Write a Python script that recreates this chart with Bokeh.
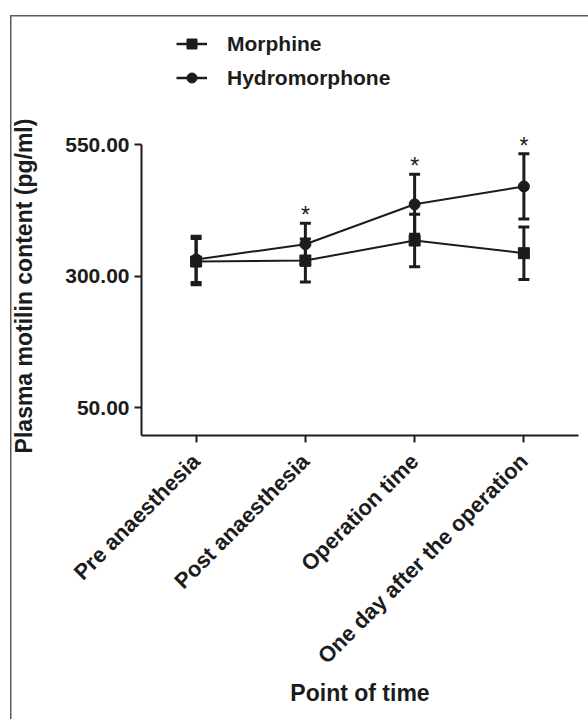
import math
from bokeh.plotting import figure
from bokeh.layouts import column
from bokeh.models import (FactorRange, Range1d, FixedTicker, NumeralTickFormatter,
                          Whisker, TeeHead, ColumnDataSource, Legend, LegendItem)
from bokeh.core.properties import value
from bokeh.embed import file_html
from bokeh.resources import INLINE

categories = ["Pre anaesthesia", "Post anaesthesia", "Operation time", "One day after the operation"]
morphine_mean = [328, 330, 368, 344]
morphine_err = [44, 41, 50, 50]
hydro_mean = [332, 361, 437, 471]
hydro_err = [44, 40, 57, 62]
significant = [False, True, True, True]
y_ticks = [50, 300, 550]
series_names = ["Morphine", "Hydromorphone"]

FONT = "Liberation Sans"
INK = "#1c1c1c"

m_src = ColumnDataSource(dict(
    x=categories, y=morphine_mean,
    lo=[m - e for m, e in zip(morphine_mean, morphine_err)],
    hi=[m + e for m, e in zip(morphine_mean, morphine_err)]))
h_src = ColumnDataSource(dict(
    x=categories, y=hydro_mean,
    lo=[m - e for m, e in zip(hydro_mean, hydro_err)],
    hi=[m + e for m, e in zip(hydro_mean, hydro_err)]))
star_src = ColumnDataSource(dict(
    x=[c for c, s in zip(categories, significant) if s],
    y=[m + e for m, e, s in zip(hydro_mean, hydro_err, significant) if s],
    t=["*" for s in significant if s]))

W = 588

# ---- legend strip: its own frame, the series drawn out of its view ----
lg = figure(width=W, height=100, output_backend="svg", toolbar_location=None,
            x_range=FactorRange(factors=categories, range_padding=0), y_range=Range1d(0, 1),
            x_axis_location=None, y_axis_location=None, min_border=0)
lg.outline_line_color = None
lg.grid.visible = False
lg.border_fill_alpha = 0
lg.background_fill_alpha = 0
lg_ml = lg.line("x", "y", source=m_src, line_color=INK, line_width=2.5)
lg_ms = lg.scatter("x", "y", source=m_src, marker="square", color=INK)
lg_hl = lg.line("x", "y", source=h_src, line_color=INK, line_width=2.5)
lg_hs = lg.scatter("x", "y", source=h_src, marker="circle", color=INK)
legend = Legend(items=[LegendItem(label=series_names[0], renderers=[lg_ml, lg_ms]),
                       LegendItem(label=series_names[1], renderers=[lg_hl, lg_hs])],
                location=(35, 10), padding=0, margin=0, spacing=9,
                glyph_width=31, glyph_height=25, label_standoff=20,
                label_text_font=FONT, label_text_font_size="21px", label_text_font_style="bold",
                label_text_color=INK, border_line_alpha=0, background_fill_alpha=0)
lg.add_layout(legend, "center")

# ---- main chart ----
p = figure(width=W, height=619, output_backend="svg", toolbar_location=None,
           x_range=FactorRange(factors=categories, range_padding=0),
           y_range=Range1d(-3, 566),
           min_border_left=141, min_border_right=10, min_border_top=36, min_border_bottom=284)
p.outline_line_color = None
p.grid.visible = False
p.border_fill_alpha = 0
p.background_fill_alpha = 0

for src in (m_src, h_src):
    p.add_layout(Whisker(source=src, base="x", lower="lo", upper="hi",
                         line_color=INK, line_width=3,
                         upper_head=TeeHead(size=11, line_width=3, line_color=INK),
                         lower_head=TeeHead(size=11, line_width=3, line_color=INK)))

p.line("x", "y", source=m_src, line_color=INK, line_width=2)
p.scatter("x", "y", source=m_src, marker="square", size=11, color=INK)
p.line("x", "y", source=h_src, line_color=INK, line_width=2)
p.scatter("x", "y", source=h_src, marker="circle", size=11, color=INK)

p.text("x", "y", text="t", source=star_src, text_font=value(FONT), text_font_size="23px",
       text_color=INK, text_align="center", text_baseline="alphabetic", y_offset=-8)

for ax in (p.xaxis[0], p.yaxis[0]):
    ax.axis_line_width = 2
    ax.axis_line_color = INK
    ax.major_tick_line_width = 2
    ax.major_tick_line_color = INK
    ax.major_tick_out = 7
    ax.major_tick_in = 0
    ax.minor_tick_line_color = None
    ax.major_label_text_font = FONT
    ax.major_label_text_font_style = "bold"
    ax.major_label_text_color = INK
    ax.axis_label_text_font = FONT
    ax.axis_label_text_font_style = "bold"
    ax.axis_label_text_font_size = "23px"
    ax.axis_label_text_color = INK

p.yaxis.bounds = (-3, 550)
p.yaxis.ticker = FixedTicker(ticks=y_ticks)
p.yaxis.formatter = NumeralTickFormatter(format="0.00")
p.yaxis.major_label_text_font_size = "21px"
p.yaxis.major_label_standoff = 5
p.yaxis.axis_label = "Plasma motilin content (pg/ml)"
p.yaxis.axis_label_standoff = 25

p.xaxis.major_label_orientation = math.pi / 4
p.xaxis.major_label_text_font_size = "22px"
p.xaxis.major_label_standoff = 15
p.xaxis.axis_label = "Point of time"
p.xaxis.axis_label_standoff = 0

layout = column(lg, p, spacing=0)
# thin page frame along the top and left, as in the source figure
FRAME = "linear-gradient(#5a5a5a, #5a5a5a)"
layout.styles = {
    "background": f"{FRAME} 10px 15px / 1.5px 100% no-repeat, "
                  f"{FRAME} 10px 15px / 100% 1.5px no-repeat, #ffffff"
}

open("out.html", "w").write(file_html(layout, INLINE))
